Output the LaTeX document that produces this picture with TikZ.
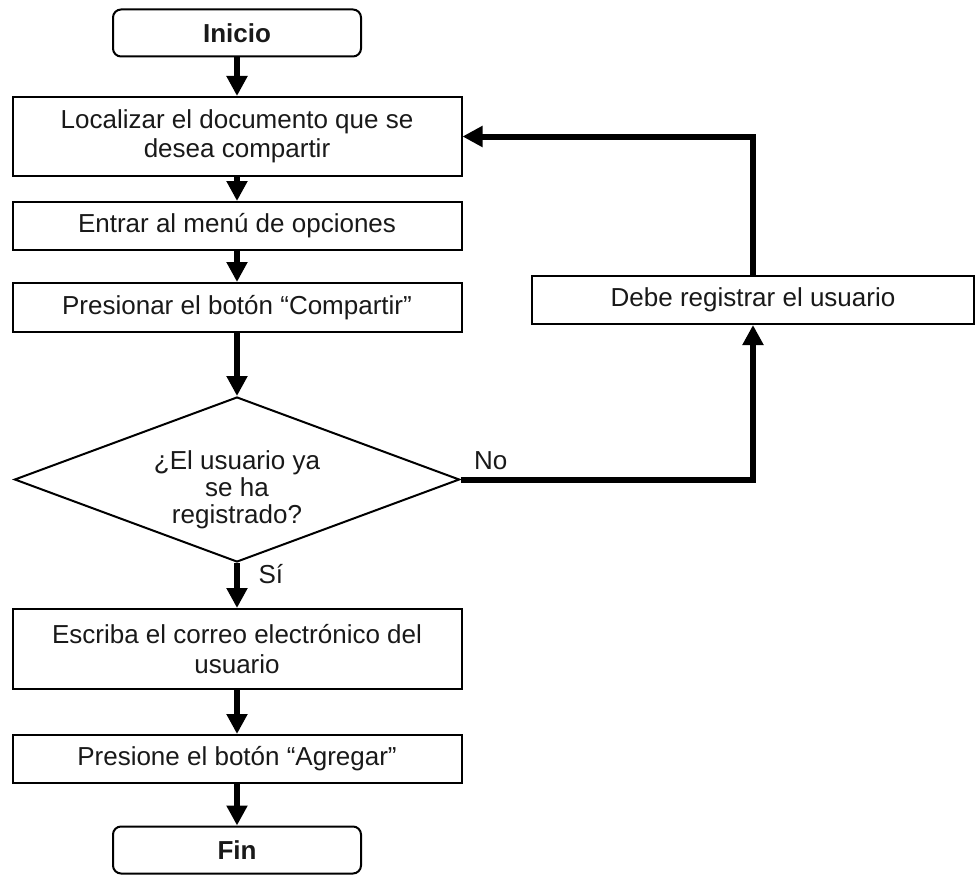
\documentclass[tikz,border=0pt]{standalone}
\usepackage{fontspec}
\setmainfont{Liberation Sans}
\usetikzlibrary{shapes.geometric,arrows.meta}
\begin{document}
\begin{tikzpicture}[x=1pt,y=-1pt,
 every node/.style={font=\fontsize{26}{29.5}\selectfont, text=black!90},
 proc/.style={draw=black, line width=2pt, minimum width=449pt, inner sep=0pt, align=center},
 term/.style={draw=black, line width=2pt, rounded corners=8pt, minimum width=248pt, minimum height=47pt, inner sep=0pt, font=\fontsize{26}{29.5}\selectfont\bfseries},
 dec/.style={draw=black, diamond, line width=2pt, minimum width=445pt, minimum height=165pt, aspect=2.7, inner sep=0pt, align=center},
 flow/.style={line width=6pt, draw=black, -{Triangle[length=20pt,width=20pt]}},
 lbl/.style={font=\fontsize{26}{29.5}\selectfont}
]
\useasboundingbox (0,0) rectangle (975,875);

\node[term] (ini) at (237,33) {Inicio};
\node[proc, minimum height=79pt] (b1) at (237,136.5) {Localizar el documento que se\\desea compartir};
\node[proc, minimum height=48pt] (b2) at (237,226) {Entrar al menú de opciones};
\node[proc, minimum height=49pt] (b3) at (237,307.5) {Presionar el botón “Compartir”};
\node[dec] (d) at (237,479.5) {\raisebox{-18pt}[0pt][0pt]{\fontsize{26}{27}\selectfont\begin{tabular}{@{}c@{}}¿El usuario ya\\se ha\\registrado?\end{tabular}}};
\node[proc, minimum height=80pt] (b4) at (237,649) {Escriba el correo electrónico del\\usuario};
\node[proc, minimum height=48pt] (b5) at (237,759) {Presione el botón “Agregar”};
\node[term] (fin) at (237,850) {Fin};
\node[draw=black, line width=2pt, minimum width=442pt, minimum height=48pt, inner sep=0pt] (r) at (753,300) {Debe registrar el usuario};

\draw[flow] (ini) -- (b1);
\draw[flow] (b1) -- (b2);
\draw[flow] (b2) -- (b3);
\draw[flow] (b3) -- (d);
\draw[flow] (d) -- (b4);
\draw[flow] (b4) -- (b5);
\draw[flow] (b5) -- (fin);
\draw[flow] (d.east) -| (r.south);
\draw[flow] (r.north) |- (b1.east);

\node[lbl, anchor=base west] (no) at ([xshift=10pt,yshift=10pt]d.east) {No};
\node[lbl, anchor=base west] (si) at ([xshift=18pt,yshift=-20pt]d.south) {Sí};
\end{tikzpicture}
\end{document}
